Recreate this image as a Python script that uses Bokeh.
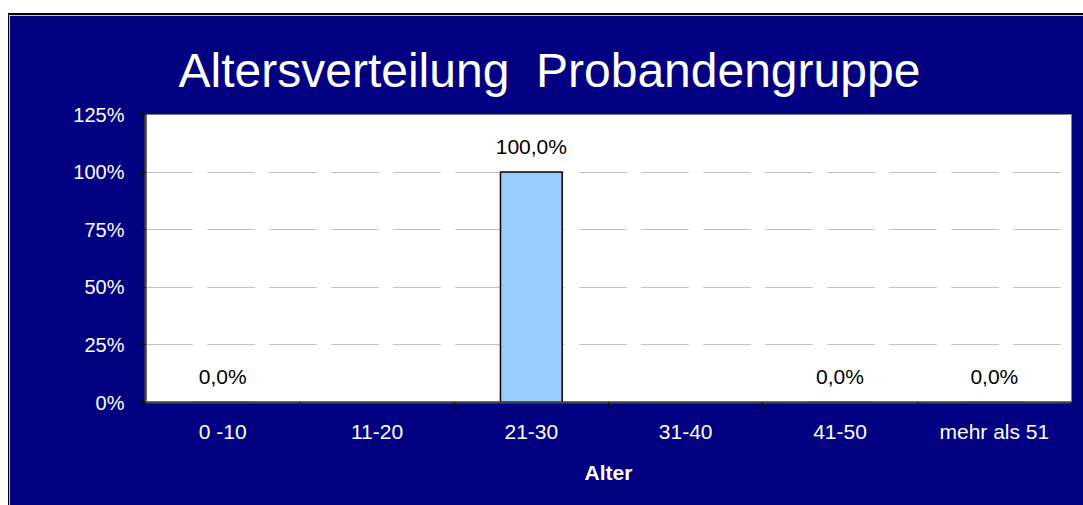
from bokeh.plotting import figure
from bokeh.models import ColumnDataSource, FixedTicker, NumeralTickFormatter, Range1d
from bokeh.core.properties import value
from bokeh.embed import file_html
from bokeh.resources import INLINE

categories = ["0 -10", "11-20", "21-30", "31-40", "41-50", "mehr als 51"]
shares = [0.0, None, 1.0, None, 0.0, 0.0]
y_ticks = [0, 0.25, 0.5, 0.75, 1.0, 1.25]
title_text = "Altersverteilung\u00a0\u00a0Probandengruppe"

FONT = "Liberation Sans"
NAVY = "#000080"

xs, tops, labels = [], [], []
for i, (c, v) in enumerate(zip(categories, shares)):
    if v is None:
        continue
    xs.append(i + 0.5)
    tops.append(v)
    labels.append(f"{v * 100:.1f}%".replace(".", ","))
src = ColumnDataSource(dict(x=xs, top=tops, label=labels))

p = figure(width=1075, height=492, output_backend="svg", toolbar_location=None,
           x_range=Range1d(0, len(categories)), y_range=Range1d(0, 1.25),
           min_border_left=136, min_border_right=13, min_border_top=99, min_border_bottom=105)
p.margin = (13, 0, 0, 8)
p.styles = {"border-top": "2px solid black", "border-left": "1px solid black"}
p.background_fill_color = "white"
p.border_fill_color = NAVY
p.outline_line_color = "#808080"
p.outline_line_width = 1

p.title.text = title_text
p.title.text_color = "white"
p.title.text_font = FONT
p.title.text_font_size = "48px"
p.title.text_font_style = "normal"
p.title.align = "left"
p.title.offset = 33
p.title.standoff = 35

p.vbar(x="x", top="top", width=0.4, bottom=0, source=src,
       fill_color="#99CCFF", line_color="black", line_width=1.5)
p.text(x="x", y="top", text="label", source=src, text_align="center",
       text_baseline="alphabetic", y_offset=-26, text_color="black",
       text_font=value(FONT), text_font_size="21px")

# x axis
xa = p.xaxis[0]
xa.ticker = FixedTicker(ticks=[i + 0.5 for i in range(len(categories))],
                        minor_ticks=list(range(len(categories) + 1)))
xa.major_label_overrides = {i + 0.5: c for i, c in enumerate(categories)}
xa.major_tick_line_color = None
xa.minor_tick_out = 6
xa.minor_tick_in = 0
xa.minor_tick_line_color = "black"
xa.axis_line_color = "#404040"
xa.axis_line_width = 2.5
xa.major_label_text_color = "white"
xa.major_label_text_font = FONT
xa.major_label_text_font_size = "21px"
xa.major_label_standoff = 11
xa.axis_label = "Alter"
xa.axis_label_text_color = "white"
xa.axis_label_text_font = FONT
xa.axis_label_text_font_size = "21px"
xa.axis_label_text_font_style = "bold"
xa.axis_label_standoff = 15

# y axis
ya = p.yaxis[0]
ya.ticker = FixedTicker(ticks=y_ticks)
ya.formatter = NumeralTickFormatter(format="0%")
ya.major_tick_out = 7
ya.major_tick_in = 0
ya.major_tick_line_color = "black"
ya.minor_tick_line_color = None
ya.axis_line_color = "#404040"
ya.axis_line_width = 2.5
ya.major_label_text_color = "white"
ya.major_label_text_font = FONT
ya.major_label_text_font_size = "20px"
ya.major_label_standoff = 14

p.xgrid.grid_line_color = None
p.ygrid.ticker = FixedTicker(ticks=y_ticks)
p.ygrid.grid_line_color = "#c0c0c0"
p.ygrid.grid_line_dash = "47 15"
p.ygrid.grid_line_width = 1

open("out.html", "w").write(file_html(p, INLINE))
